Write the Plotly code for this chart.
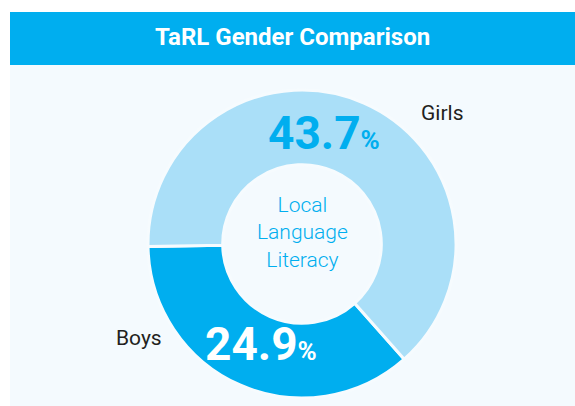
import plotly.graph_objects as go

title = "TaRL Gender Comparison"
labels = ["Boys", "Girls"]
values = [24.9, 43.7]
colors = ["#00AEEF", "#AADFF8"]
center_lines = ["Local", "Language", "Literacy"]

W, H = 575, 406
cx, cy, r = 302, 244, 154

def px(x):
    return x / W

def py(y):
    return 1 - y / H

fig = go.Figure()
fig.add_trace(go.Pie(
    labels=labels, values=values, sort=False, direction="counterclockwise",
    rotation=138.4, hole=0.515,
    marker=dict(colors=colors, line=dict(color="#F6FBFE", width=3)),
    textinfo="none", hoverinfo="label+value", showlegend=False,
    domain=dict(x=[px(cx - r), px(cx + r)], y=[py(cy + r), py(cy - r)]),
))

BLUE = "#00AEEF"
FONT = "Roboto"
anns = []
anns.append(dict(x=px(292), y=py(37), text="<b>" + title + "</b>", showarrow=False,
                 font=dict(family=FONT, size=24, color="white"), xanchor="center", yanchor="middle"))
anns.append(dict(x=px(302), y=py(232), text="<br>".join(center_lines), showarrow=False,
                 font=dict(family=FONT, size=21, color=BLUE, weight=300),
                 xanchor="center", yanchor="middle"))
# percentages
pct_pos = {"Girls": (324, 133, BLUE), "Boys": (261, 344, "white")}
lab_pos = {"Girls": (442, 113), "Boys": (139, 338)}
for lab, v in zip(labels, values):
    x, y, c = pct_pos[lab]
    anns.append(dict(x=px(x), y=py(y), showarrow=False, xanchor="center", yanchor="middle",
                     text=f"<b>{v:.1f}<span style='font-size:26px'>%</span></b>",
                     font=dict(family=FONT, size=46, color=c)))
    lx, ly = lab_pos[lab]
    anns.append(dict(x=px(lx), y=py(ly), text=lab, showarrow=False, xanchor="center", yanchor="middle",
                     font=dict(family=FONT, size=21, color="#231F20")))

shapes = [
    dict(type="rect", xref="paper", yref="paper", x0=px(10), x1=1, y0=0, y1=py(65),
         fillcolor="#F4FAFE", line_width=0, layer="below"),
    dict(type="rect", xref="paper", yref="paper", x0=px(10), x1=1, y0=py(65), y1=py(12),
         fillcolor=BLUE, line_width=0, layer="below"),
]

fig.update_layout(width=W, height=H, margin=dict(l=0, r=0, t=0, b=0),
                  paper_bgcolor="white", plot_bgcolor="white",
                  annotations=anns, shapes=shapes)
fig.write_html("out.html", config={"displayModeBar": False},
               post_script="document.body.style.margin='0';document.body.style.overflow='hidden';")
